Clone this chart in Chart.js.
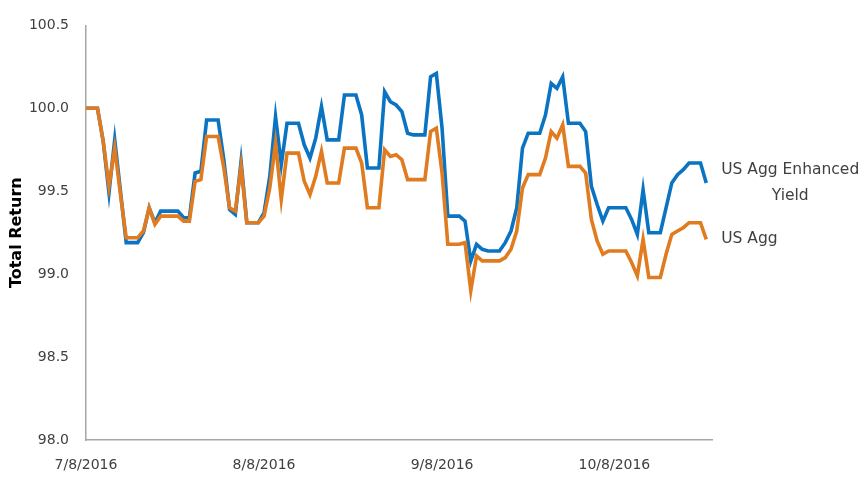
<!DOCTYPE html>
<html>
<head>
<meta charset="utf-8">
<script src="https://cdn.jsdelivr.net/npm/chart.js@4/dist/chart.umd.min.js"></script>
<style>
  html, body { margin: 0; padding: 0; background: #ffffff; }
  #wrap { width: 865px; height: 481px; }
</style>
</head>
<body>
<div id="wrap"><canvas id="chart" width="865" height="481"></canvas></div>
<script>
// Daily total return index, 7/8/2016 onward (weekends/holidays carry the prior close)
const startDate = new Date(2016, 6, 8);
const dayCount = 109;

const tickLabels = ['7/8/2016', '8/8/2016', '9/8/2016', '10/8/2016'];

const seriesNames = [['US Agg Enhanced', 'Yield'], ['US Agg']];

const enhancedYield = [
  100.00, 100.00, 100.00, 99.80, 99.49, 99.81, 99.50, 99.19, 99.19, 99.19,
  99.25, 99.40, 99.31, 99.38, 99.38, 99.38, 99.38, 99.34, 99.34, 99.61,
  99.62, 99.93, 99.93, 99.93, 99.69, 99.39, 99.36, 99.68, 99.31, 99.31,
  99.31, 99.37, 99.59, 99.95, 99.66, 99.91, 99.91, 99.91, 99.78, 99.70,
  99.82, 100.01, 99.81, 99.81, 99.81, 100.08, 100.08, 100.08, 99.96, 99.64,
  99.64, 99.64, 100.10, 100.04, 100.02, 99.98, 99.85, 99.84, 99.84, 99.84,
  100.19, 100.21, 99.88, 99.35, 99.35, 99.35, 99.32, 99.08, 99.18, 99.15,
  99.14, 99.14, 99.14, 99.19, 99.26, 99.40, 99.76, 99.85, 99.85, 99.85,
  99.96, 100.15, 100.12, 100.19, 99.91, 99.91, 99.91, 99.86, 99.53, 99.42,
  99.32, 99.40, 99.40, 99.40, 99.40, 99.33, 99.24, 99.51, 99.25, 99.25,
  99.25, 99.40, 99.55, 99.60, 99.63, 99.67, 99.67, 99.67, 99.55
];

const usAgg = [
  100.00, 100.00, 100.00, 99.80, 99.53, 99.76, 99.48, 99.22, 99.22, 99.22,
  99.26, 99.40, 99.30, 99.35, 99.35, 99.35, 99.35, 99.32, 99.32, 99.56,
  99.57, 99.83, 99.83, 99.83, 99.64, 99.40, 99.38, 99.65, 99.31, 99.31,
  99.31, 99.35, 99.52, 99.79, 99.45, 99.73, 99.73, 99.73, 99.56, 99.48,
  99.59, 99.74, 99.55, 99.55, 99.55, 99.76, 99.76, 99.76, 99.67, 99.40,
  99.40, 99.40, 99.75, 99.71, 99.72, 99.69, 99.57, 99.57, 99.57, 99.57,
  99.86, 99.88, 99.61, 99.18, 99.18, 99.18, 99.19, 98.90, 99.11, 99.08,
  99.08, 99.08, 99.08, 99.10, 99.15, 99.26, 99.52, 99.60, 99.60, 99.60,
  99.70, 99.86, 99.82, 99.90, 99.65, 99.65, 99.65, 99.61, 99.33, 99.20,
  99.12, 99.14, 99.14, 99.14, 99.14, 99.07, 98.99, 99.21, 98.98, 98.98,
  98.98, 99.12, 99.24, 99.26, 99.28, 99.31, 99.31, 99.31, 99.21
];

// Calendar-day categories in m/d/yyyy form, plus one empty slot so the axis runs past the last close
const dates = [];
for (let i = 0; i < dayCount; i++) {
  const d = new Date(startDate.getFullYear(), startDate.getMonth(), startDate.getDate() + i);
  dates.push((d.getMonth() + 1) + '/' + d.getDate() + '/' + d.getFullYear());
}
dates.push('');

const BLUE = '#0b74c2';
const ORANGE = '#e07b1f';
const TEXT = '#404040';
const AXIS = '#a6a6a6';
const FONT = "'DejaVu Sans', sans-serif";

// Series names written just to the right of each line's last point
const endLabels = {
  id: 'endLabels',
  afterDatasetsDraw(chart) {
    const ctx = chart.ctx;
    ctx.save();
    ctx.font = '15.5px ' + FONT;
    ctx.fillStyle = TEXT;
    ctx.textBaseline = 'middle';
    chart.data.datasets.forEach((ds, i) => {
      const meta = chart.getDatasetMeta(i);
      const pt = meta.data[meta.data.length - 1];
      const lines = ds.endLabel;
      const left = pt.x + 15;
      const widths = lines.map(t => ctx.measureText(t).width);
      const maxW = Math.max(...widths);
      const lh = 26;
      const y0 = pt.y - (lines.length - 1) * lh / 2;
      lines.forEach((t, k) => {
        ctx.textAlign = 'center';
        ctx.fillText(t, left + maxW / 2, y0 + k * lh);
      });
    });
    ctx.restore();
  }
};

new Chart(document.getElementById('chart'), {
  type: 'line',
  data: {
    labels: dates,
    datasets: [
      {
        label: seriesNames[0].join(' '),
        endLabel: seriesNames[0],
        data: enhancedYield,
        borderColor: BLUE,
        borderWidth: 3.6,
        pointRadius: 0,
        tension: 0,
        fill: false,
        order: 2
      },
      {
        label: seriesNames[1].join(' '),
        endLabel: seriesNames[1],
        data: usAgg,
        borderColor: ORANGE,
        borderWidth: 3.6,
        pointRadius: 0,
        tension: 0,
        fill: false,
        order: 1
      }
    ]
  },
  options: {
    responsive: false,
    animation: false,
    layout: { padding: { left: 0, right: 153, top: 24, bottom: 0 } },
    plugins: {
      legend: { display: false },
      tooltip: { enabled: false }
    },
    scales: {
      x: {
        type: 'category',
        offset: false,
        grid: { display: false, drawTicks: false },
        border: { display: true, color: AXIS, width: 1.5 },
        ticks: {
          autoSkip: false,
          maxRotation: 0,
          minRotation: 0,
          padding: 17,
          color: TEXT,
          font: { family: FONT, size: 14 },
          callback: function (val) {
            const l = this.getLabelForValue(val);
            return tickLabels.includes(l) ? l : null;
          }
        },
        afterFit(scale) { scale.height = 481 - 440; }
      },
      y: {
        min: 98,
        max: 100.5,
        grid: { display: false, drawTicks: false },
        border: { display: true, color: AXIS, width: 1.5 },
        ticks: {
          stepSize: 0.5,
          padding: 17,
          color: TEXT,
          font: { family: FONT, size: 14 },
          callback: v => Number(v).toFixed(1)
        },
        title: {
          display: true,
          text: 'Total Return',
          color: '#000000',
          font: { family: FONT, size: 16, weight: 'bold' },
          padding: { top: 7, bottom: 0 }
        },
        afterFit(scale) { scale.width = 86; }
      }
    }
  },
  plugins: [endLabels]
});
</script>
</body>
</html>
